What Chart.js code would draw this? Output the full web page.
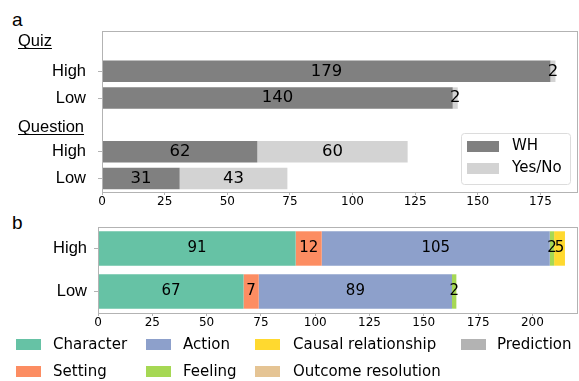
<!DOCTYPE html>
<html lang="en">
<head>
<meta charset="UTF-8" />
<title>Quiz and question types</title>
<style>
  body { margin: 0; width: 579px; height: 381px; position: relative; overflow: hidden; background: #fff; }
  .holder { position: absolute; left: 0; width: 579px; }
  .tag { position: absolute; font-family: "Liberation Sans", Arial, sans-serif; font-size: 19px; line-height: 19px; color: #000; }
  .sw { position: absolute; width: 25px; height: 11px; }
  .txt { position: absolute; font-family: "DejaVu Sans", sans-serif; font-size: 15px; line-height: 18px; color: #000; white-space: nowrap; }
</style>
</head>
<body>
<div class="tag" style="left:12px; top:10px">a</div>
<div class="tag" style="left:12px; top:213px">b</div>
<div class="holder" style="top:0; height:215px"><canvas id="chartA" width="579" height="215"></canvas></div>
<div class="holder" style="top:205px; height:125px"><canvas id="chartB" width="579" height="125"></canvas></div>
<div id="legendB"></div>

<script src="https://cdn.jsdelivr.net/npm/chart.js"></script>
<script>
// panel a
const quizLabels = ["Quiz", "High", "Low", "Question", "High", "Low"];
const headerRows = [0, 3];
const whCounts = [null, 179, 140, null, 62, 31];
const yesNoCounts = [null, 2, 2, null, 60, 43];
const aTicks = [0, 25, 50, 75, 100, 125, 150, 175];

// panel b
const levelLabels = ["High", "Low"];
const character = [91, 67];
const setting = [12, 7];
const action = [105, 89];
const feeling = [2, 2];
const causal = [5, 0];
const outcome = [0, 0];
const prediction = [0, 0];
const bTicks = [0, 25, 50, 75, 100, 125, 150, 175, 200];
const typeNames = ["Character", "Setting", "Action", "Feeling", "Causal relationship", "Outcome resolution", "Prediction"];
const typeColors = ["#66c2a5", "#fc8d62", "#8da0cb", "#a6d854", "#ffd92f", "#e5c494", "#b3b3b3"];
const typeValues = [character, setting, action, feeling, causal, outcome, prediction];

const spine = "#b3b3b3";
const sans = '"DejaVu Sans", sans-serif';
const arial = '"Liberation Sans", Arial, sans-serif';

// box round the plot area
const frame = {
  id: "frame",
  afterDatasetsDraw(chart) {
    const a = chart.chartArea, ctx = chart.ctx;
    ctx.save();
    ctx.strokeStyle = spine;
    ctx.lineWidth = 1;
    ctx.strokeRect(Math.round(a.left) + 0.5, Math.round(a.top) + 0.5, Math.round(a.right - a.left) - 1, Math.round(a.bottom - a.top));
    ctx.restore();
  }
};

// numbers in the middle of each segment
const valueLabels = {
  id: "valueLabels",
  afterDatasetsDraw(chart, args, opts) {
    const ctx = chart.ctx;
    ctx.save();
    ctx.font = opts.size + "px " + sans;
    ctx.fillStyle = "#000";
    ctx.textAlign = "center";
    ctx.textBaseline = "middle";
    chart.data.datasets.forEach((ds, di) => {
      chart.getDatasetMeta(di).data.forEach((bar, i) => {
        const v = ds.data[i];
        if (!v) return;
        ctx.fillText(String(v), (bar.x + bar.base) / 2, bar.y);
      });
    });
    ctx.restore();
  }
};

// underlined group names on the y axis of panel a
const headers = {
  id: "headers",
  afterDraw(chart) {
    const y = chart.scales.y, ctx = chart.ctx;
    const shift = [2, 7];
    ctx.save();
    ctx.font = "16.5px " + arial;
    ctx.fillStyle = "#000";
    ctx.strokeStyle = "#000";
    ctx.lineWidth = 1;
    ctx.textAlign = "left";
    ctx.textBaseline = "alphabetic";
    headerRows.forEach((r, k) => {
      const base = y.getPixelForValue(r) + shift[k];
      const text = quizLabels[r];
      ctx.fillText(text, 18, base);
      const w = ctx.measureText(text).width;
      ctx.beginPath();
      ctx.moveTo(18, Math.round(base) + 2.5);
      ctx.lineTo(18 + w, Math.round(base) + 2.5);
      ctx.stroke();
    });
    ctx.restore();
  }
};

// legend box inside panel a
const legendA = {
  id: "legendA",
  afterDraw(chart) {
    const a = chart.chartArea, ctx = chart.ctx;
    const w = 109, h = 51;
    const x0 = a.right - 8 - w, y0 = a.bottom - 8 - h;
    ctx.save();
    ctx.fillStyle = "rgba(255,255,255,0.85)";
    ctx.strokeStyle = "#dcdcdc";
    ctx.lineWidth = 1;
    ctx.beginPath();
    ctx.roundRect(Math.round(x0) + 0.5, Math.round(y0) + 0.5, w, h, 3);
    ctx.fill();
    ctx.stroke();
    ctx.font = "15px " + sans;
    ctx.textAlign = "left";
    ctx.textBaseline = "middle";
    chart.data.datasets.forEach((ds, i) => {
      const cy = y0 + 13.5 + i * 22;
      ctx.fillStyle = ds.backgroundColor;
      ctx.fillRect(x0 + 6, cy - 5.5, 32, 11);
      ctx.fillStyle = "#000";
      ctx.fillText(ds.label, x0 + 51, cy);
    });
    ctx.restore();
  }
};

function xAxis(max, ticks, height) {
  return {
    stacked: true,
    min: 0,
    max: max,
    afterFit: s => { s.height = height; },
    afterBuildTicks: s => { s.ticks = ticks.map(v => ({ value: v })); },
    grid: { drawOnChartArea: false, tickLength: 3, color: spine },
    border: { display: false },
    ticks: { font: { family: sans, size: 12 }, color: "#000", padding: 0, maxRotation: 0 }
  };
}

new Chart(document.getElementById("chartA"), {
  type: "bar",
  data: {
    labels: quizLabels,
    datasets: [
      { label: "WH", data: whCounts, backgroundColor: "#808080" },
      { label: "Yes/No", data: yesNoCounts, backgroundColor: "#d3d3d3" }
    ]
  },
  options: {
    indexAxis: "y",
    responsive: false,
    animation: false,
    datasets: { bar: { categoryPercentage: 0.8, barPercentage: 1, borderWidth: 0 } },
    layout: { padding: { top: 31, right: 1, left: 0, bottom: 0 } },
    plugins: {
      legend: { display: false },
      tooltip: { enabled: false },
      valueLabels: { size: 16.5 }
    },
    scales: {
      x: xAxis(190, aTicks, 23),
      y: {
        stacked: true,
        afterFit: s => { s.width = 102; },
        border: { display: false },
        grid: {
          offset: false,
          drawOnChartArea: false,
          tickLength: 4,
          color: c => headerRows.includes(c.index) ? "rgba(0,0,0,0)" : spine
        },
        ticks: {
          callback: (v, i) => headerRows.includes(i) ? "" : quizLabels[i],
          font: { family: arial, size: 16.5 },
          color: "#000",
          padding: 12
        }
      }
    }
  },
  plugins: [frame, valueLabels, headers, legendA]
});

new Chart(document.getElementById("chartB"), {
  type: "bar",
  data: {
    labels: levelLabels,
    datasets: typeNames.map((name, i) => ({
      label: name,
      data: typeValues[i],
      backgroundColor: typeColors[i]
    }))
  },
  options: {
    indexAxis: "y",
    responsive: false,
    animation: false,
    datasets: { bar: { categoryPercentage: 0.8, barPercentage: 1, borderWidth: 0 } },
    layout: { padding: { top: 22, right: 1, left: 0, bottom: 0 } },
    plugins: {
      legend: { display: false },
      tooltip: { enabled: false },
      valueLabels: { size: 15 }
    },
    scales: {
      x: xAxis(221, bTicks, 17),
      y: {
        stacked: true,
        afterFit: s => { s.width = 98; },
        border: { display: false },
        grid: { offset: false, drawOnChartArea: false, tickLength: 4, color: spine },
        ticks: { font: { family: arial, size: 16.5 }, color: "#000", padding: 7 }
      }
    }
  },
  plugins: [frame, valueLabels]
});

// legend under panel b, filled column by column like the original
const swatchX = [16, 146, 255, 461];
const textX = [53, 183, 293, 497];
const rowY = [344, 371];
const legendB = document.getElementById("legendB");
typeNames.forEach((name, i) => {
  const col = Math.floor(i / 2), row = i % 2;
  const sw = document.createElement("div");
  sw.className = "sw";
  sw.style.left = swatchX[col] + "px";
  sw.style.top = (rowY[row] - 5.5) + "px";
  sw.style.background = typeColors[i];
  legendB.appendChild(sw);
  const t = document.createElement("div");
  t.className = "txt";
  t.style.left = textX[col] + "px";
  t.style.top = (rowY[row] - 9) + "px";
  t.textContent = name;
  legendB.appendChild(t);
});
</script>
</body>
</html>
